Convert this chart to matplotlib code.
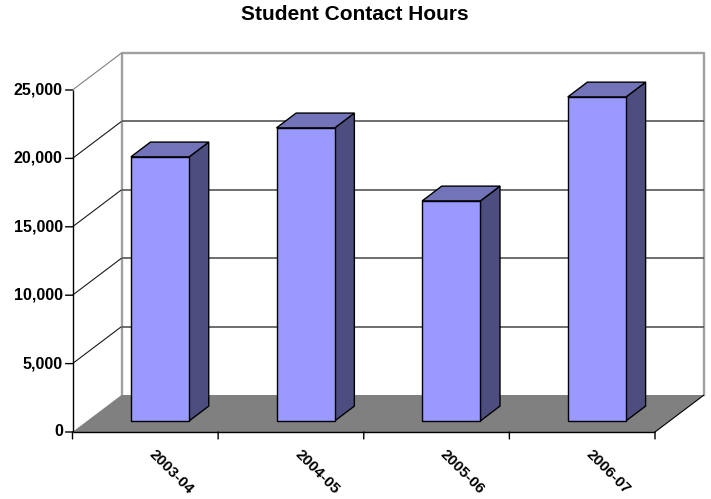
import matplotlib
matplotlib.use("Agg")
import matplotlib.pyplot as plt
from matplotlib.patches import Polygon

plt.rcParams['font.family'] = ['Liberation Sans', 'DejaVu Sans']

categories = ['2003-04', '2004-05', '2005-06', '2006-07']
contact_hours = [19300, 21420, 16080, 23680]
value_ticks = [0, 5000, 10000, 15000, 20000, 25000]

W, H = 711, 499
fig = plt.figure(figsize=(W / 100, H / 100), dpi=100, facecolor='white')

# Axes box is the front plane of the pseudo-3D chart
left, right, bottom, top = 72.5, 655.0, 432.0, 90.0
ax = fig.add_axes([left / W, 1 - bottom / H, (right - left) / W, (bottom - top) / H])
ax.set_xlim(0, len(categories))
ax.set_ylim(0, value_ticks[-1])
ax.axis('off')

# Depth of the chart expressed in data units
DX = 49.0 / ((right - left) / len(categories))
DY = 37.0 / ((bottom - top) / value_ticks[-1])


def project(x, y, d=0.0):
    return (x + DX * d, y + DY * d)


def poly(points, **kw):
    kw.setdefault('clip_on', False)
    ax.add_patch(Polygon(points, closed=True, **kw))


def segment(p, q, **kw):
    ax.plot([p[0], q[0]], [p[1], q[1]], clip_on=False, solid_capstyle='butt', **kw)


n = len(categories)
vmax = value_ticks[-1]

# Back wall border
xs, ys = zip(project(0, 0, 1), project(0, vmax, 1), project(n, vmax, 1), project(n, 0, 1))
ax.plot(xs, ys, color='#a0a0a0', lw=1.7, clip_on=False, zorder=1)

# Gridlines on the side and back walls
for v in value_ticks[1:]:
    edge = '#808080' if v == vmax else '#1a1a1a'
    segment(project(0, v, 0), project(0, v, 1), color=edge, lw=0.8, zorder=1)
    if v != vmax:
        segment(project(0, v, 1), project(n, v, 1), color='#555555', lw=1.2, zorder=1)

# Floor
poly([project(0, 0, 0), project(n, 0, 0), project(n, 0, 1), project(0, 0, 1)],
     facecolor='#808080', edgecolor='none', zorder=2)
segment(project(n, 0, 0), project(n, 0, 1), color='black', lw=0.8, zorder=2)

# Bars: side, top and front faces
bar_w = 0.4
d0, d1 = 0.3, 0.7
for i, val in enumerate(contact_hours):
    x0 = i + 0.5 - bar_w / 2
    x1 = x0 + bar_w
    style = dict(edgecolor='black', lw=1.0, joinstyle='miter', zorder=3)
    poly([project(x1, 0, d0), project(x1, 0, d1), project(x1, val, d1), project(x1, val, d0)],
         facecolor='#4d4d80', **style)
    poly([project(x0, val, d0), project(x1, val, d0), project(x1, val, d1), project(x0, val, d1)],
         facecolor='#7373b9', **style)
    poly([project(x0, 0, d0), project(x1, 0, d0), project(x1, val, d0), project(x0, val, d0)],
         facecolor='#9999ff', **style)

# Front axes with outward tick marks
segment((0, 0), (0, vmax), color='black', lw=1.0, zorder=4)
segment((0, 0), (n, 0), color='black', lw=1.0, zorder=4)
for v in value_ticks:
    ax.annotate('', (0, v), xytext=(-5, 0), textcoords='offset points',
                arrowprops=dict(arrowstyle='-', lw=1.0, color='black', shrinkA=0, shrinkB=0))
    ax.annotate(f'{v:,}', (0, v), xytext=(-7, 0), textcoords='offset points',
                ha='right', va='center', fontsize=11.5, fontweight='bold')
for i in range(n + 1):
    ax.annotate('', (i, 0), xytext=(0, -5), textcoords='offset points',
                arrowprops=dict(arrowstyle='-', lw=1.0, color='black', shrinkA=0, shrinkB=0))
for i, name in enumerate(categories):
    ax.annotate(name, (i + 0.5, 0), xytext=(8, -11), textcoords='offset points',
                ha='left', va='top', rotation=-45, rotation_mode='anchor',
                fontsize=11, fontweight='bold')

fig.text(355 / W, 1 - 14.5 / H, 'Student Contact Hours', ha='center', va='center',
         fontsize=15, fontweight='bold')

fig.savefig('out.png', dpi=100, facecolor='white')
